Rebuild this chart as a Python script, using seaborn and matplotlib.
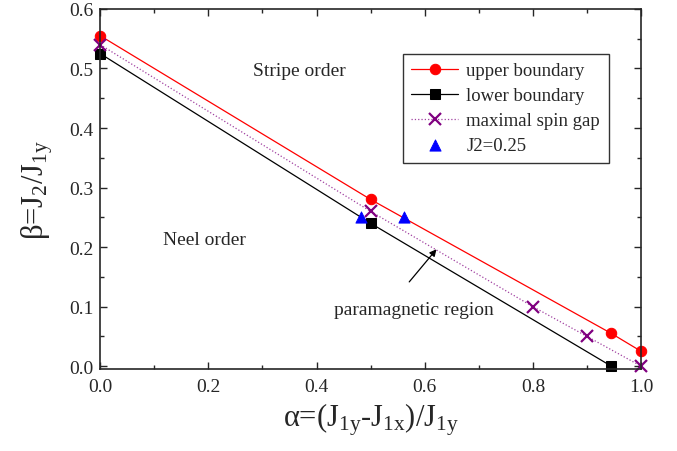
import numpy as np
import pandas as pd
import seaborn as sns
import matplotlib as mpl
mpl.use("Agg")
import matplotlib.pyplot as plt
from matplotlib.ticker import MultipleLocator

# data
upper_x = [0.0, 0.5, 0.945, 1.0]
upper_y = [0.555, 0.28, 0.055, 0.025]
lower_x = [0.0, 0.5, 0.945]
lower_y = [0.525, 0.24, 0.0]
gap_x = [0.0, 0.5, 0.8, 0.9, 1.0]
gap_y = [0.54, 0.26, 0.1, 0.05, 0.0]
j2_x = [0.483, 0.562]
j2_y = [0.25, 0.25]

sns.set_style("ticks")
plt.rcParams['font.family'] = ['Liberation Serif', 'DejaVu Serif']
plt.rcParams['mathtext.fontset'] = 'custom'
plt.rcParams['mathtext.rm'] = 'Liberation Serif'
plt.rcParams['mathtext.it'] = 'Liberation Serif'

fig = plt.figure(figsize=(6.77, 4.52), dpi=100)
ax = fig.add_axes([0.148, 0.181, 0.799, 0.797])

up = pd.DataFrame({'x': upper_x, 'y': upper_y})
lo = pd.DataFrame({'x': lower_x, 'y': lower_y})
gp = pd.DataFrame({'x': gap_x, 'y': gap_y})
j2 = pd.DataFrame({'x': j2_x, 'y': j2_y})

sns.lineplot(data=up, x='x', y='y', ax=ax, color='red', lw=0.9, marker='o',
             markersize=7.5, markeredgecolor='red', label='upper boundary', clip_on=False)
sns.lineplot(data=lo, x='x', y='y', ax=ax, color='black', lw=0.9, marker='s',
             markersize=6.5, markeredgecolor='black', label='lower boundary', clip_on=False)
sns.lineplot(data=gp, x='x', y='y', ax=ax, color='#A040A0', lw=0.9, ls=':', marker='x',
             markersize=8, markeredgewidth=1.6, markeredgecolor='purple', label='maximal spin gap', clip_on=False)
sns.scatterplot(data=j2, x='x', y='y', ax=ax, color='blue', marker='^', s=65,
                edgecolor='blue', label='J2=0.25', zorder=5)

ax.set_xlim(0, 1.0)
ax.set_ylim(-0.005, 0.6)
ax.xaxis.set_major_locator(MultipleLocator(0.2))
ax.xaxis.set_minor_locator(MultipleLocator(0.1))
ax.yaxis.set_major_locator(MultipleLocator(0.1))
ax.yaxis.set_minor_locator(MultipleLocator(0.05))
ax.set_xticklabels([f'{v:.1f}' for v in ax.get_xticks()])
ax.set_yticklabels([f'{v:.1f}' for v in ax.get_yticks()])
ax.tick_params(which='both', direction='in', top=True, right=True, labelsize=14, width=1)
ax.tick_params(axis='x', pad=6)
ax.tick_params(axis='y', pad=5)
ax.tick_params(which='major', length=5)
ax.tick_params(which='minor', length=3)
for s in ax.spines.values():
    s.set_linewidth(1.2)

ax.set_xlabel(r'$\alpha$=(J$_{1\mathrm{y}}$-J$_{1\mathrm{x}}$)/J$_{1\mathrm{y}}$', fontsize=22, labelpad=4)
ax.set_ylabel(r'$\beta$=J$_2$/J$_{1\mathrm{y}}$', fontsize=22, labelpad=10)

ax.text(0.368, 0.496, 'Stripe order', fontsize=14, ha='center', va='center')
ax.text(0.193, 0.213, 'Neel order', fontsize=14, ha='center', va='center')
ax.text(0.58, 0.096, 'paramagnetic region', fontsize=14, ha='center', va='center')
ax.annotate('', xy=(0.625, 0.2), xytext=(0.568, 0.138),
            arrowprops=dict(arrowstyle='-|>', color='black', lw=0.9, mutation_scale=10))

leg = ax.legend(loc='upper right', bbox_to_anchor=(0.94, 0.876), fontsize=13.5,
                frameon=True, fancybox=False, edgecolor='black', handlelength=2.5,
                borderpad=0.45, labelspacing=0.42, handletextpad=0.45, borderaxespad=0)
leg.get_frame().set_linewidth(1.0)

plt.savefig('out.png', dpi=100)
